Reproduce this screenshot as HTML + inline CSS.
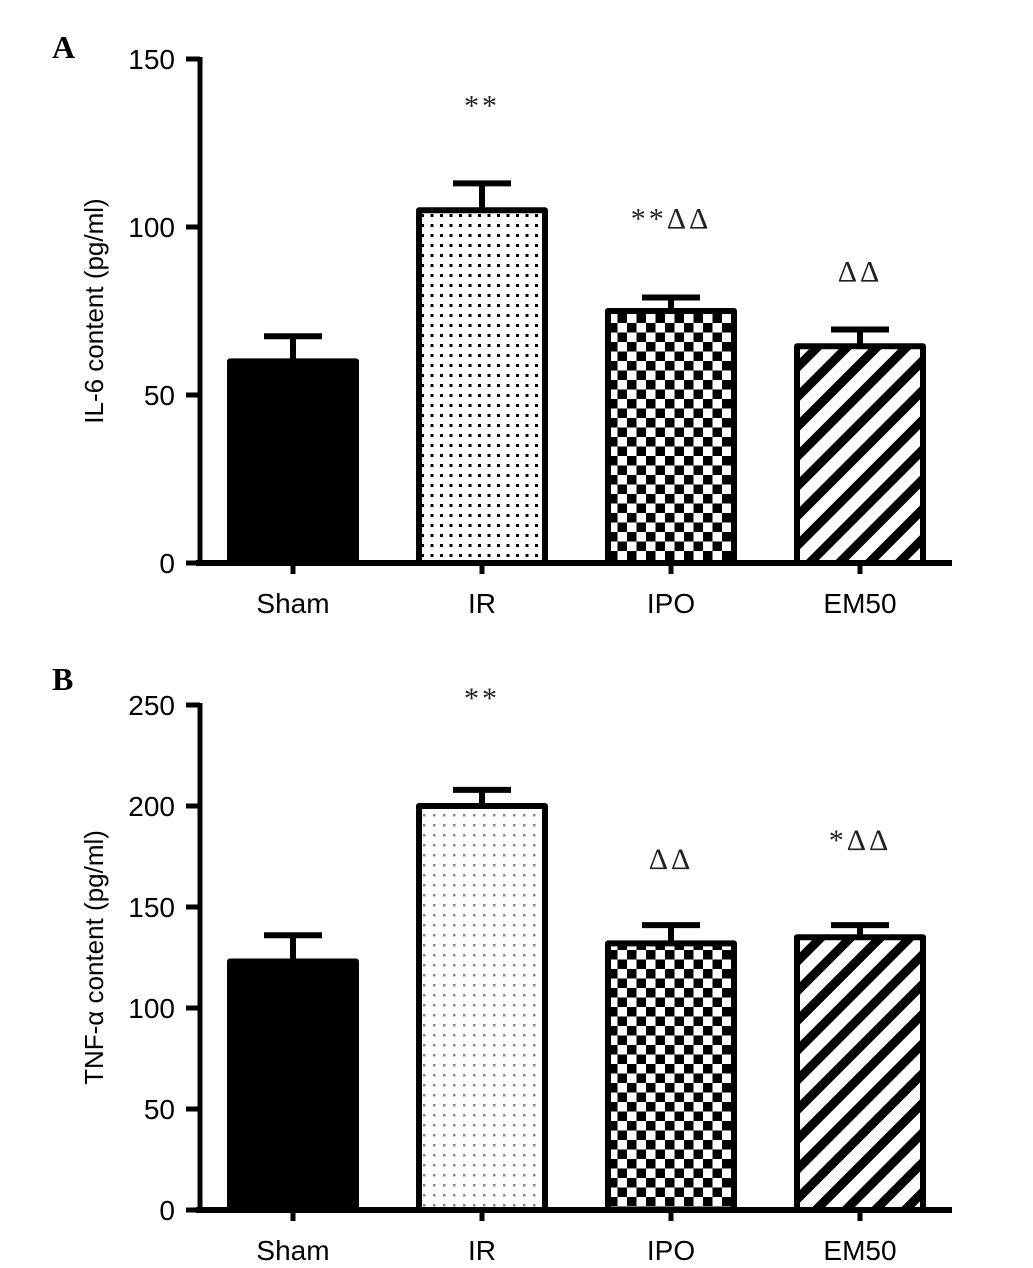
<!DOCTYPE html>
<html><head><meta charset="utf-8"><style>
html,body{margin:0;padding:0;background:#fff;}
svg{display:block;font-family:"Liberation Sans",Arial,sans-serif;}
</style></head><body>
<svg id="c" width="1033" height="1268" viewBox="0 0 1033 1268" xmlns="http://www.w3.org/2000/svg">
<defs>
<pattern id="dots" width="9.5" height="10" patternUnits="userSpaceOnUse"><rect x="3" y="4" width="3" height="3" fill="#000"/></pattern>
<pattern id="dotsB" width="10" height="10" patternUnits="userSpaceOnUse"><rect x="3" y="4" width="2.5" height="2.5" fill="#888"/></pattern>
<pattern id="check" width="19" height="19" patternUnits="userSpaceOnUse"><rect width="19" height="19" fill="#fff"/><rect width="9.5" height="9.5" fill="#000"/><rect x="9.5" y="9.5" width="9.5" height="9.5" fill="#000"/></pattern>
<pattern id="stripe" width="21" height="21" patternUnits="userSpaceOnUse" patternTransform="rotate(45)"><rect width="21" height="21" fill="#fff"/><rect width="9" height="21" fill="#000"/></pattern>
</defs>
</svg>
<script>
const categories=["Sham","IR","IPO","EM50"];
const il6Values=[60,105,75,64.5];
const il6Errors=[7.5,8,4,5];
const il6Ticks=[0,50,100,150];
const il6Marks=["","**","**ΔΔ","ΔΔ"];
const tnfValues=[123,200,132,135];
const tnfErrors=[13,8,9,6];
const tnfTicks=[0,50,100,150,200,250];
const tnfMarks=["","**","ΔΔ","*ΔΔ"];
const fillsA=["#000","url(#dots)","url(#check)","url(#stripe)"];
const fillsB=["#000","url(#dotsB)","url(#check)","url(#stripe)"];
const gapsA=[0,68,69,48];
const gapsB=[0,82,56,75];
const svg=document.getElementById('c');
const NS="http://www.w3.org/2000/svg";
function el(t,a,p){const e=document.createElementNS(NS,t);for(const k in a)e.setAttribute(k,a[k]);(p||svg).appendChild(e);return e;}
function panel(o){
  const g=el('g',{});
  
  
  const y=v=>o.y0-(v/o.max)*(o.y0-o.yTop);
  const x=i=>293+i*189;
  o.values.forEach((v,i)=>{
    const cx=x(i),top=y(v),et=y(v+o.errors[i]);
    const eb=el('line',{x1:cx,x2:cx,y1:top,y2:et,stroke:'#000','stroke-width':6},g);
    
    
    const cap=el('line',{x1:cx-29,x2:cx+29,y1:et,y2:et,stroke:'#000','stroke-width':6},g);
    
    
    const r=el('rect',{x:cx-63,y:top,width:126,height:o.y0-top,fill:o.fills[i],stroke:'#000','stroke-width':6,'stroke-linejoin':'round'},g);
    
    
    if(o.marks[i]){const t=el('text',{x:cx,y:et-o.gaps[i],'text-anchor':'middle','font-size':30,'letter-spacing':3,'font-family':'"Liberation Serif",serif',fill:'#222'},g);t.textContent=o.marks[i];
      
      }
    const tk=el('line',{x1:cx,x2:cx,y1:o.y0,y2:o.y0+11,stroke:'#000','stroke-width':5},g);
    
    
    const lb=el('text',{x:cx,y:o.y0+50,'text-anchor':'middle','font-size':28},g);lb.textContent=categories[i];
    
    
  });
  const ya=el('line',{x1:200,x2:200,y1:o.yTop-2,y2:o.y0+2,stroke:'#000','stroke-width':5},g);
  
  
  const xa=el('line',{x1:196,x2:952,y1:o.y0,y2:o.y0,stroke:'#000','stroke-width':6},g);
  
  
  o.ticks.forEach(v=>{
    const tk=el('line',{x1:186,x2:200,y1:y(v),y2:y(v),stroke:'#000','stroke-width':5},g);
    
    
    const t=el('text',{x:175,y:y(v)+10,'text-anchor':'end','font-size':28},g);t.textContent=v;
    
    
  });
  const yt=el('text',{x:0,y:0,'text-anchor':'middle','font-size':26,transform:`translate(103,${(o.y0+o.yTop)/2}) rotate(-90)`},g);yt.textContent=o.title;
  
  
  const pl=el('text',{x:52,y:o.letterY,'font-size':32,'font-weight':'bold','font-family':'"Liberation Serif",serif'},g);pl.textContent=o.letter;
  
  
}
panel({name:'panel-a-il6',y0:563,yTop:59,max:150,values:il6Values,errors:il6Errors,ticks:il6Ticks,marks:il6Marks,fills:fillsA,gaps:gapsA,title:'IL-6 content (pg/ml)',letter:'A',letterY:58});
panel({name:'panel-b-tnf',y0:1210,yTop:705,max:250,values:tnfValues,errors:tnfErrors,ticks:tnfTicks,marks:tnfMarks,fills:fillsB,gaps:gapsB,title:'TNF-α content (pg/ml)',letter:'B',letterY:690});
</script>
</body></html>
